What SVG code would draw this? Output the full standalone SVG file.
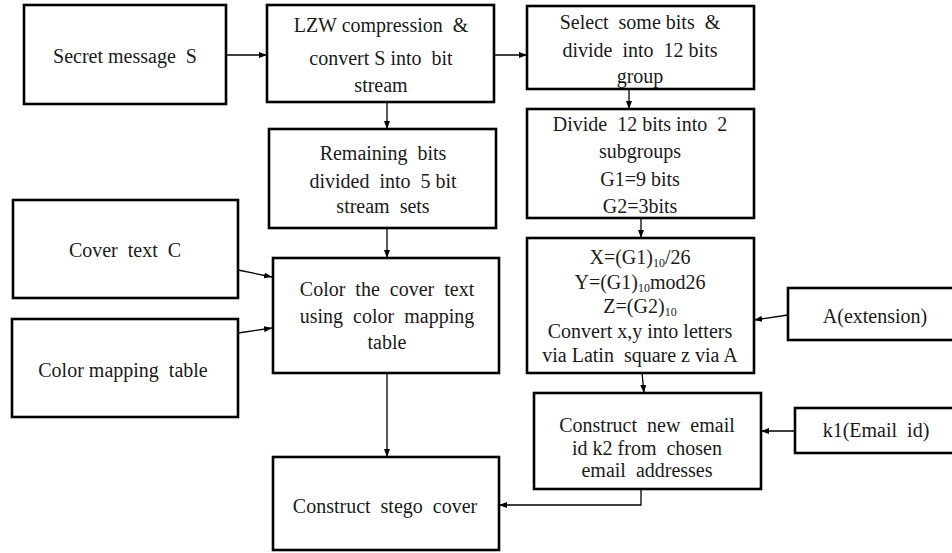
<svg xmlns="http://www.w3.org/2000/svg" width="952" height="553" viewBox="0 0 952 553">
<style>
.box{fill:#fff;stroke:#000;stroke-width:2.6}
.t{font-size:20px;fill:#1a1a1a;text-anchor:middle;white-space:pre}
.sub{font-size:12px}
.c{fill:none;stroke:#000;stroke-width:1.3}
</style>
<defs>
<marker id="ah" markerUnits="userSpaceOnUse" markerWidth="8" markerHeight="6" refX="8" refY="3" orient="auto">
<path d="M0,0 L8,3 L0,6 z" fill="#000"/>
</marker>
</defs>
<rect width="952" height="553" fill="#fff"/>
<g id="connectors">
<path class="c" d="M226,55 H267" marker-end="url(#ah)"/>
<path class="c" d="M494,55 H527" marker-end="url(#ah)"/>
<path class="c" d="M387,102 V129" marker-end="url(#ah)"/>
<path class="c" d="M629,89 V109" marker-end="url(#ah)"/>
<path class="c" d="M387,228 V258" marker-end="url(#ah)"/>
<path class="c" d="M641,218 V238" marker-end="url(#ah)"/>
<path class="c" d="M238,270 L272,277" marker-end="url(#ah)"/>
<path class="c" d="M238,333 L272,328" marker-end="url(#ah)"/>
<path class="c" d="M387,373 V457" marker-end="url(#ah)"/>
<path class="c" d="M642,373 L644,393" marker-end="url(#ah)"/>
<path class="c" d="M788,315 L754,320" marker-end="url(#ah)"/>
<path class="c" d="M795,431 L761,431" marker-end="url(#ah)"/>
<path class="c" d="M641,489 V505 H499" marker-end="url(#ah)"/>
</g>
<g font-family="Liberation Serif, Times New Roman, Times, serif">
<g id="secret">
<rect class="box" x="24" y="5" width="202" height="99"/>
<text class="t" x="125" y="63">Secret message  S</text>
</g>
<g id="lzw">
<rect class="box" x="267" y="5" width="227" height="97"/>
<text class="t" x="381" y="32">LZW compression  &amp;</text>
<text class="t" x="381" y="65">convert S into  bit</text>
<text class="t" x="381" y="92">stream</text>
</g>
<g id="select">
<rect class="box" x="527" y="6" width="227" height="83"/>
<text class="t" x="640" y="29">Select  some bits  &amp;</text>
<text class="t" x="640" y="57">divide  into  12 bits</text>
<text class="t" x="640" y="83">group</text>
</g>
<g id="remaining">
<rect class="box" x="269" y="129" width="227" height="99"/>
<text class="t" x="383" y="160">Remaining  bits</text>
<text class="t" x="383" y="188">divided  into  5 bit</text>
<text class="t" x="383" y="213">stream  sets</text>
</g>
<g id="divide">
<rect class="box" x="527" y="109" width="227" height="109"/>
<text class="t" x="640" y="131">Divide  12 bits into  2</text>
<text class="t" x="640" y="158">subgroups</text>
<text class="t" x="640" y="186">G1=9 bits</text>
<text class="t" x="640" y="213">G2=3bits</text>
</g>
<g id="cover">
<rect class="box" x="13" y="200" width="225" height="98"/>
<text class="t" x="125" y="257">Cover  text  C</text>
</g>
<g id="colormap">
<rect class="box" x="12" y="319" width="226" height="98"/>
<text class="t" x="123" y="377">Color mapping  table</text>
</g>
<g id="colorcover">
<rect class="box" x="273" y="258" width="226" height="115"/>
<text class="t" x="387" y="296">Color  the  cover  text</text>
<text class="t" x="387" y="323">using  color  mapping</text>
<text class="t" x="387" y="349">table</text>
</g>
<g id="xyz">
<rect class="box" x="527" y="238" width="227" height="135"/>
<text class="t" x="640" y="264">X=(G1)<tspan class="sub" dy="3">10</tspan><tspan dy="-3">/26</tspan></text>
<text class="t" x="640" y="289">Y=(G1)<tspan class="sub" dy="3">10</tspan><tspan dy="-3">mod26</tspan></text>
<text class="t" x="640" y="313">Z=(G2)<tspan class="sub" dy="3">10</tspan></text>
<text class="t" x="640" y="338">Convert x,y into letters</text>
<text class="t" x="640" y="362">via Latin  square z via A</text>
</g>
<g id="aext">
<rect class="box" x="788" y="288" width="172" height="52"/>
<text class="t" x="875" y="323">A(extension)</text>
</g>
<g id="construct">
<rect class="box" x="534" y="393" width="227" height="96"/>
<text class="t" x="647" y="432">Construct  new  email</text>
<text class="t" x="647" y="455">id k2 from  chosen</text>
<text class="t" x="647" y="477">email  addresses</text>
</g>
<g id="k1">
<rect class="box" x="795" y="408" width="165" height="45"/>
<text class="t" x="876" y="437">k1(Email  id)</text>
</g>
<g id="stego">
<rect class="box" x="273" y="457" width="226" height="93"/>
<text class="t" x="385" y="513">Construct  stego  cover</text>
</g>
</g>
</svg>
